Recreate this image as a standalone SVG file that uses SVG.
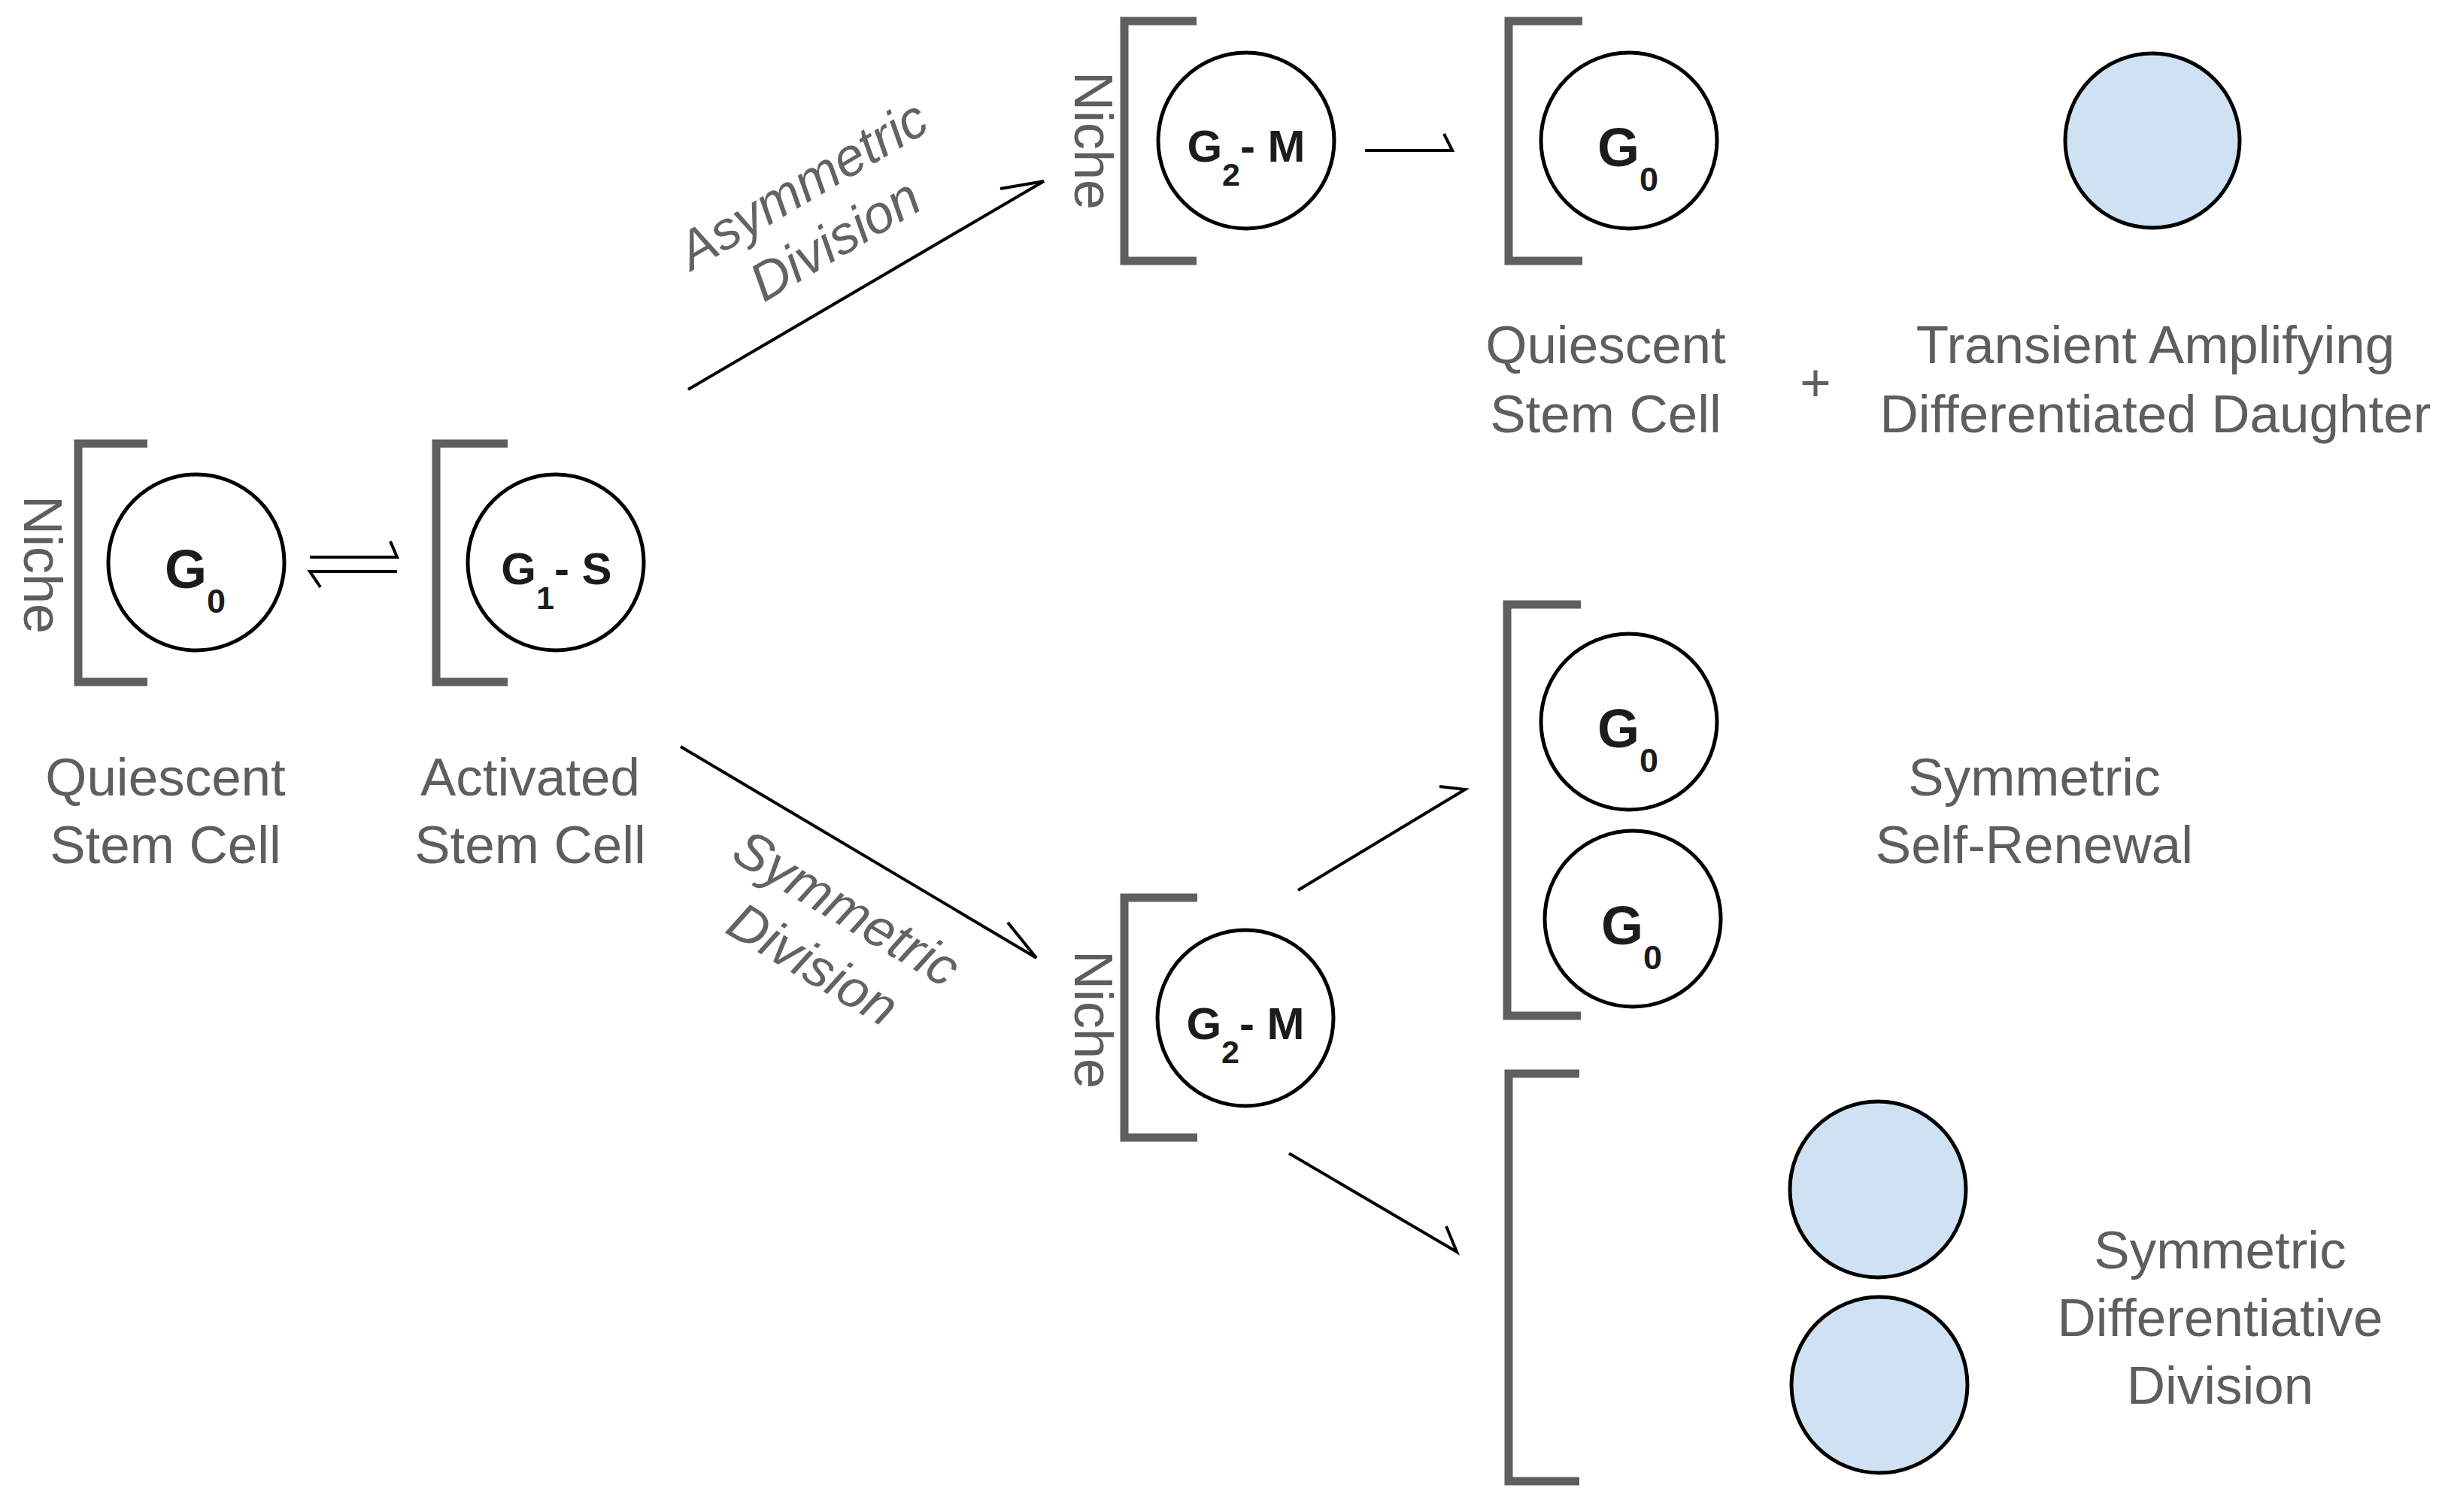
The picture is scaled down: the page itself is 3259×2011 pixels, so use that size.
<svg xmlns="http://www.w3.org/2000/svg" width="3259" height="2011" viewBox="0 0 3259 2011">
<style>
  .bracket { fill: none; stroke: #5f5f5f; stroke-width: 11; stroke-linejoin: miter; stroke-linecap: butt; }
  .cell { fill: #ffffff; stroke: #000000; stroke-width: 5; }
  .diff { fill: #cfe2f3; stroke: #000000; stroke-width: 5; }
  .g { font-family: "Liberation Sans", Arial, sans-serif; font-weight: bold; font-size: 72px; fill: #1c1c1c; }
  .gs { font-family: "Liberation Sans", Arial, sans-serif; font-weight: bold; font-size: 60px; fill: #1c1c1c; }
  .sub { font-size: 45px; }
  .subs { font-size: 43px; }
  .label { font-family: "Liberation Sans", Arial, sans-serif; font-size: 71px; fill: #5e5e5e; text-anchor: middle; }
  .niche { font-family: "Liberation Sans", Arial, sans-serif; font-size: 72px; fill: #5e5e5e; text-anchor: middle; }
  .rot { font-family: "Liberation Sans", Arial, sans-serif; font-style: italic; font-size: 71px; fill: #636363; text-anchor: middle; }
  .arrow { fill: none; stroke: #000000; stroke-width: 4; stroke-linejoin: miter; stroke-linecap: butt; }
</style>
<rect x="0" y="0" width="3259" height="2011" fill="#ffffff"/>

<g id="connectors">
  <path class="arrow" d="M412,741 L528,741 L519,720"/>
  <path class="arrow" d="M528,760 L412,760 L426,781"/>
  <path class="arrow" d="M915,518 L1388,241 L1330,251"/>
  <path class="arrow" d="M1815,200 L1931,200 L1920,178"/>
  <path class="arrow" d="M905,993 L1378,1274 L1340,1227"/>
  <path class="arrow" d="M1726,1184 L1948,1050 L1914,1046"/>
  <path class="arrow" d="M1714,1534 L1937,1665 L1923,1631"/>
  <g transform="translate(1088,281) rotate(-30.5)">
    <text class="rot"><tspan x="0" y="-17">Asymmetric</tspan><tspan x="0" y="68">Division</tspan></text>
  </g>
  <g transform="translate(1104,1244) rotate(31)">
    <text class="rot"><tspan x="0" y="-18">Symmetric</tspan><tspan x="0" y="69">Division</tspan></text>
  </g>
</g>

<g id="quiescent-stem-cell">
  <path class="bracket" d="M196,590 L104,590 L104,907 L196,907"/>
  <circle class="cell" cx="261" cy="748" r="117"/>
  <text class="g" x="219" y="782">G<tspan class="sub" dy="33">0</tspan></text>
  <text class="niche" transform="translate(32,751) rotate(90)" x="0" y="0">Niche</text>
  <text class="label"><tspan x="220" y="1058">Quiescent</tspan><tspan x="220" y="1148">Stem Cell</tspan></text>
</g>

<g id="activated-stem-cell">
  <path class="bracket" d="M675,590 L580,590 L580,907 L675,907"/>
  <circle class="cell" cx="739" cy="748" r="117"/>
  <text class="gs" x="740" y="777" text-anchor="middle">G<tspan class="subs" dy="33">1</tspan><tspan dy="-33">- S</tspan></text>
  <text class="label"><tspan x="705" y="1058">Activated</tspan><tspan x="705" y="1148">Stem Cell</tspan></text>
</g>

<g id="asymmetric-g2m">
  <path class="bracket" d="M1591,28 L1495,28 L1495,347 L1591,347"/>
  <circle class="cell" cx="1657" cy="187" r="117"/>
  <text class="gs" x="1657" y="215" text-anchor="middle">G<tspan class="subs" dy="32">2</tspan><tspan dy="-32">- M</tspan></text>
  <text class="niche" transform="translate(1429,187) rotate(90)" x="0" y="0">Niche</text>
</g>

<g id="asymmetric-quiescent">
  <path class="bracket" d="M2104,28 L2006,28 L2006,347 L2104,347"/>
  <circle class="cell" cx="2166" cy="187" r="117"/>
  <text class="g" x="2124" y="221">G<tspan class="sub" dy="33">0</tspan></text>
  <text class="label"><tspan x="2135" y="483">Quiescent</tspan><tspan x="2135" y="575">Stem Cell</tspan></text>
</g>

<g id="plus">
  <text class="label" x="2414" y="533">+</text>
</g>

<g id="differentiated-daughter">
  <circle class="diff" cx="2862" cy="187" r="116"/>
  <text class="label"><tspan x="2866" y="483">Transient Amplifying</tspan><tspan x="2866" y="575">Differentiated Daughter</tspan></text>
</g>

<g id="symmetric-g2m">
  <path class="bracket" d="M1592,1194 L1495,1194 L1495,1513 L1592,1513"/>
  <circle class="cell" cx="1656" cy="1354" r="117"/>
  <text class="gs" x="1656" y="1382" text-anchor="middle">G<tspan class="subs" dy="32">2</tspan><tspan dy="-32">- M</tspan></text>
  <text class="niche" transform="translate(1429,1356) rotate(90)" x="0" y="0">Niche</text>
</g>

<g id="symmetric-self-renewal">
  <path class="bracket" d="M2102,804 L2004,804 L2004,1351 L2102,1351"/>
  <circle class="cell" cx="2166" cy="960" r="117"/>
  <text class="g" x="2124" y="994">G<tspan class="sub" dy="33">0</tspan></text>
  <circle class="cell" cx="2171" cy="1222" r="117"/>
  <text class="g" x="2129" y="1256">G<tspan class="sub" dy="33">0</tspan></text>
  <text class="label"><tspan x="2705" y="1058">Symmetric</tspan><tspan x="2705" y="1148">Self-Renewal</tspan></text>
</g>

<g id="symmetric-differentiative-division">
  <path class="bracket" d="M2100,1428 L2006,1428 L2006,1970 L2100,1970"/>
  <circle class="diff" cx="2497" cy="1582" r="117"/>
  <circle class="diff" cx="2499" cy="1842" r="117"/>
  <text class="label"><tspan x="2952" y="1687">Symmetric</tspan><tspan x="2952" y="1777">Differentiative</tspan><tspan x="2952" y="1867">Division</tspan></text>
</g>
</svg>
